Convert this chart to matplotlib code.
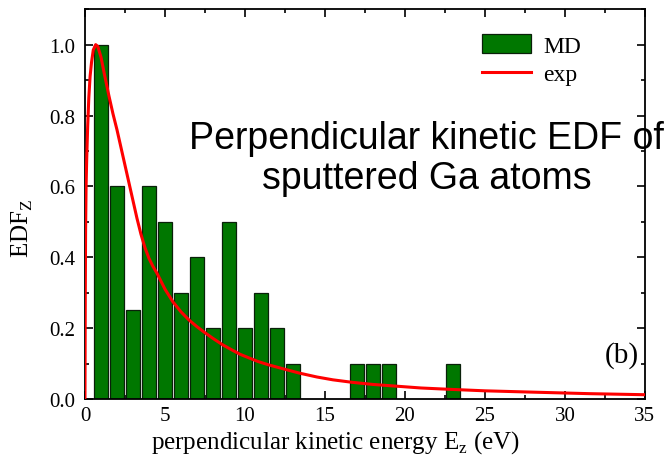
import numpy as np
import matplotlib
matplotlib.use('Agg')
import matplotlib.pyplot as plt
from matplotlib.ticker import MultipleLocator

plt.rcParams['font.family'] = ['Liberation Serif', 'DejaVu Serif']
plt.rcParams['mathtext.fontset'] = 'custom'
plt.rcParams['mathtext.rm'] = 'Liberation Serif'

# MD histogram (bin centre, EDF)
md_energy = [1, 2, 3, 4, 5, 6, 7, 8, 9, 10, 11, 12, 13, 17, 18, 19, 23]
md_edf = [1.0, 0.6, 0.25, 0.6, 0.5, 0.3, 0.4, 0.2, 0.5, 0.2, 0.3, 0.2, 0.1,
          0.1, 0.1, 0.1, 0.1]

# exp curve, points
exp_energy = [0.0, 0.02, 0.04, 0.07, 0.11, 0.17, 0.24, 0.32, 0.41, 0.52, 0.67,
              0.8, 1.0, 1.2, 1.5, 1.75, 2.0, 2.25, 2.5, 2.75, 3.0, 3.25, 3.5,
              3.75, 4.0, 4.25, 4.5, 5.0, 5.5, 6.0, 6.5, 7.0, 7.5, 8.0, 8.6,
              9.2, 9.7, 10.3, 10.8, 11.5, 12.4, 13.4, 14.5, 15.5, 16.7, 18.0,
              19.5, 21.0, 22.9, 25.0, 28.2, 31.5, 35.0]
exp_edf = [0.0, 0.3, 0.48, 0.6, 0.68, 0.77, 0.85, 0.91, 0.95, 0.985, 1.0,
           0.995, 0.965, 0.92, 0.855, 0.805, 0.76, 0.71, 0.66, 0.61, 0.56,
           0.51, 0.465, 0.427, 0.397, 0.374, 0.355, 0.31, 0.274, 0.246,
           0.223, 0.204, 0.187, 0.171, 0.153, 0.138, 0.126, 0.115, 0.106,
           0.096, 0.085, 0.073, 0.062, 0.054, 0.047, 0.041, 0.036, 0.031,
           0.027, 0.023, 0.019, 0.015, 0.012]

fig = plt.figure(figsize=(6.69, 4.64), dpi=100)
ax = fig.add_axes([0.127, 0.138, 0.837, 0.840])

ax.bar(md_energy, md_edf, width=0.88, color='#007700', edgecolor='#0a200a',
       linewidth=0.9, label='MD', zorder=2)
ax.plot(exp_energy, exp_edf, color='#ff0000', linewidth=2.2, label='exp', zorder=3)

ax.set_xlim(0, 35)
ax.set_ylim(0, 1.1)
ax.xaxis.set_major_locator(MultipleLocator(5))
ax.xaxis.set_minor_locator(MultipleLocator(2.5))
ax.yaxis.set_major_locator(MultipleLocator(0.2))
ax.yaxis.set_minor_locator(MultipleLocator(0.1))
ax.yaxis.set_major_formatter(matplotlib.ticker.FormatStrFormatter('%.1f'))
ax.tick_params(which='both', direction='in', top=True, right=True,
               labelsize=15, width=1.2)
ax.tick_params(which='major', length=6)
ax.tick_params(which='minor', length=3)
ax.tick_params(axis='x', which='major', pad=5)
ax.tick_params(axis='y', which='major', pad=7)
for s in ax.spines.values():
    s.set_linewidth(1.3)

ax.set_xlabel(r'perpendicular kinetic energy E$_\mathregular{z}$ (eV)',
              fontsize=18)
ax.set_ylabel(r'EDF$_\mathregular{Z}$', fontsize=18)
ax.xaxis.set_label_coords(0.448, -0.076)
ax.yaxis.set_label_coords(-0.089, 0.441)

handles, labels = ax.get_legend_handles_labels()
order = [labels.index('MD'), labels.index('exp')]
ax.legend([handles[i] for i in order], [labels[i] for i in order],
          loc='upper right', bbox_to_anchor=(0.911, 0.972), frameon=False,
          fontsize=17, handlelength=2.1, handleheight=0.85,
          handletextpad=0.5, labelspacing=0.25, borderaxespad=0.2)

ax.text(0.61, 0.618, 'Perpendicular kinetic EDF of\nsputtered Ga atoms',
        transform=ax.transAxes, ha='center', va='center', fontsize=27,
        family=['Liberation Sans', 'DejaVu Sans'], linespacing=1.15)
ax.text(0.99, 0.115, '(b)', transform=ax.transAxes, ha='right', va='center',
        fontsize=21)

fig.savefig('out.png', dpi=100)
